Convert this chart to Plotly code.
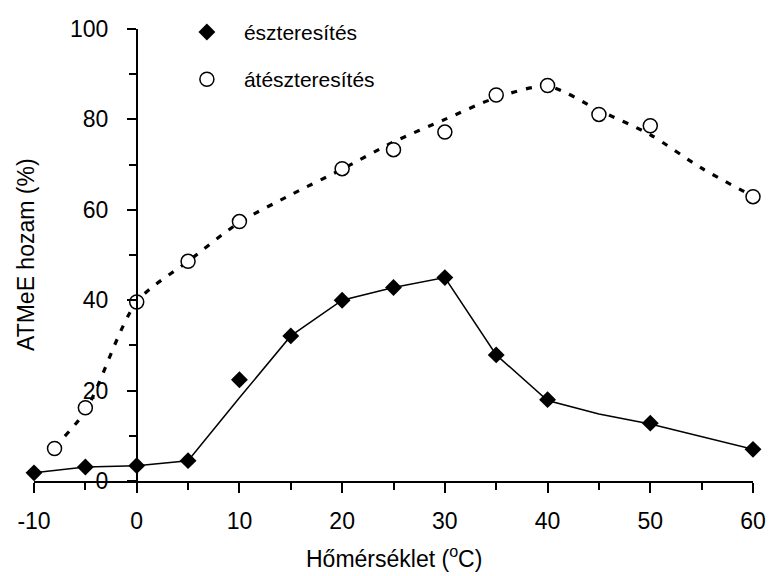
import plotly.graph_objects as go

# Esterification (észteresítés): measured yields
temp_est = [-10, -5, 0, 5, 10, 15, 20, 25, 30, 35, 40, 50, 60]
yield_est = [1.8, 3.1, 3.4, 4.5, 22.4, 32.1, 40.0, 42.8, 45.0, 27.9, 18.0, 12.8, 7.0]
# Esterification: fitted trend line
temp_est_fit = [-10, -5, 0, 5, 10, 15, 20, 25, 30, 35, 40, 45, 50, 60]
yield_est_fit = [1.8, 3.1, 3.4, 4.5, 18.4, 32.1, 40.0, 42.8, 45.0, 27.9, 17.8, 14.8, 12.6, 7.0]

# Transesterification (átészteresítés): measured yields
temp_trans = [-8, -5, 0, 5, 10, 20, 25, 30, 35, 40, 45, 50, 60]
yield_trans = [7.2, 16.2, 39.6, 48.6, 57.4, 69.1, 73.3, 77.2, 85.4, 87.5, 81.1, 78.6, 62.9]
# Transesterification: fitted trend line
temp_trans_fit = [-8, -5, 0, 5, 10, 15, 20, 25, 30, 35, 40, 45, 50, 55, 60]
yield_trans_fit = [7.5, 15.5, 39.6, 48.6, 57.2, 63.3, 69.0, 75.0, 80.0, 84.8, 87.3, 82.0, 76.6, 69.2, 63.0]

x_ticks = [-10, 0, 10, 20, 30, 40, 50, 60]
y_ticks = [0, 20, 40, 60, 80, 100]

FONT = "Liberation Sans, Arial, sans-serif"

fig = go.Figure()

fig.add_trace(go.Scatter(
    x=temp_trans_fit, y=yield_trans_fit, mode="lines",
    line=dict(color="black", width=3.2, dash="6px,9px", shape="spline", smoothing=0.8),
    showlegend=False, cliponaxis=False, hoverinfo="skip"))
fig.add_trace(go.Scatter(
    x=temp_est_fit, y=yield_est_fit, mode="lines",
    line=dict(color="black", width=1.5),
    showlegend=False, cliponaxis=False, hoverinfo="skip"))

fig.add_trace(go.Scatter(
    x=temp_est, y=yield_est, mode="markers", name="észteresítés",
    legendgroup="a",
    marker=dict(symbol="diamond", size=13, color="black", line=dict(width=0)),
    cliponaxis=False))
fig.add_trace(go.Scatter(
    x=temp_trans, y=yield_trans, mode="markers", name="átészteresítés",
    legendgroup="b",
    marker=dict(symbol="circle", size=14, color="white", line=dict(color="black", width=1.5)),
    cliponaxis=False))

fig.update_layout(
    width=769, height=576,
    margin=dict(l=34, r=16, t=29, b=95, autoexpand=False),
    paper_bgcolor="white", plot_bgcolor="white",
    font=dict(family=FONT, color="black", size=23),
    showlegend=True,
    legend=dict(
        x=0.189, y=1.038, xanchor="left", yanchor="top",
        font=dict(family=FONT, size=21, color="black"),
        bgcolor="rgba(0,0,0,0)", borderwidth=0,
        tracegroupgap=17, traceorder="grouped", itemwidth=64,
    ),
    xaxis=dict(
        range=[-10, 60], tickvals=x_ticks, ticktext=[str(v) for v in x_ticks],
        automargin=False,
        showgrid=False, zeroline=False,
        showline=True, linecolor="black", linewidth=1.5,
        ticks="outside", ticklen=10, tickwidth=1.5, tickcolor="black",
        minor=dict(dtick=5, tick0=-10, ticks="outside", ticklen=7, tickwidth=1.5, tickcolor="black"),
        tickfont=dict(family=FONT, size=23),
        ticklabelstandoff=9,
    ),
    yaxis=dict(
        range=[0, 100], tickvals=y_ticks, ticktext=[str(v) for v in y_ticks],
        automargin=False,
        anchor="free", position=10 / 70,
        showgrid=False, zeroline=False,
        showline=True, linecolor="black", linewidth=1.5,
        ticks="outside", ticklen=9, tickwidth=1.5, tickcolor="black",
        minor=dict(dtick=10, tick0=0, ticks="outside", ticklen=7, tickwidth=1.5, tickcolor="black"),
        tickfont=dict(family=FONT, size=23),
        ticklabelstandoff=14,
    ),
    annotations=[
        dict(text="Hőmérséklet (<sup>o</sup>C)", x=0.5, y=0, xref="paper", yref="paper",
             xanchor="center", yanchor="middle", yshift=-76, showarrow=False,
             font=dict(family=FONT, size=23)),
        dict(text="ATMeE hozam (%)", x=0, y=0.5, xref="paper", yref="paper",
             xanchor="center", yanchor="middle", xshift=-8, textangle=-90, showarrow=False,
             font=dict(family=FONT, size=23)),
    ],
)

fig.write_html("out.html")
